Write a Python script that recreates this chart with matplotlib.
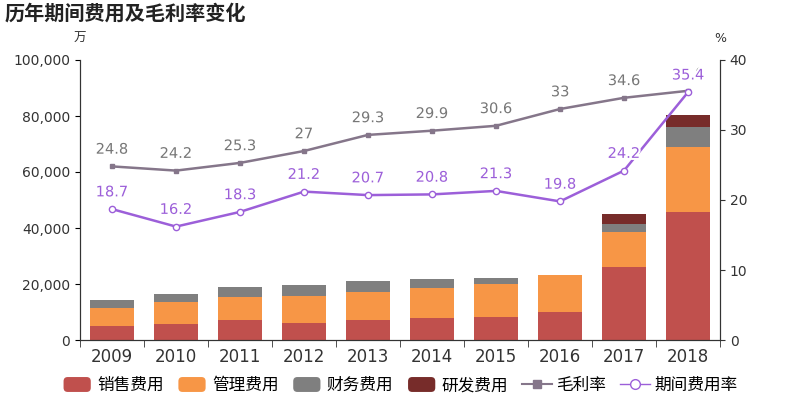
import matplotlib
matplotlib.use("Agg")
import matplotlib.pyplot as plt
import matplotlib.patches as mpatches
import matplotlib.patheffects as pe
from matplotlib.legend_handler import HandlerPatch
from matplotlib.lines import Line2D
import numpy as np

plt.rcParams['font.family'] = ['DejaVu Sans', 'Noto Sans CJK SC']

years = ['2009', '2010', '2011', '2012', '2013', '2014', '2015', '2016', '2017', '2018']
sales = [5000, 5700, 7100, 6200, 7100, 7900, 8200, 10000, 26100, 45700]
admin = [6400, 7900, 8200, 9600, 10000, 10800, 11700, 13100, 12600, 23200]
finance = [2900, 2900, 3700, 3900, 3800, 3200, 2400, 100, 2700, 7000]
rnd = [0, 0, 0, 0, 0, 0, 0, 0, 3600, 4400]
gross_margin = [24.8, 24.2, 25.3, 27, 29.3, 29.9, 30.6, 33, 34.6, 35.6]
expense_rate = [18.7, 16.2, 18.3, 21.2, 20.7, 20.8, 21.3, 19.8, 24.2, 35.4]

c_sales = '#c0504d'
c_admin = '#f79646'
c_fin = '#7f7f7f'
c_rnd = '#772c2a'
c_gm = '#85768a'
c_er = '#9c5fd9'


class RoundBox(HandlerPatch):
    # rounded colour swatch for the legend
    def create_artists(self, legend, orig_handle, xdescent, ydescent, width, height, fontsize, trans):
        p = mpatches.FancyBboxPatch((-xdescent + 1, -ydescent), width - 2, height,
                                    boxstyle='round,pad=0,rounding_size=3',
                                    facecolor=orig_handle.get_facecolor(), edgecolor='none',
                                    transform=trans)
        return [p]


fig = plt.figure(figsize=(8, 4), dpi=100)
ax = fig.add_axes([0.1, 0.15, 0.8, 0.70])
ax2 = ax.twinx()

x = np.arange(len(years))
w = 0.69
bottom = np.zeros(len(years))
for vals, col in [(sales, c_sales), (admin, c_admin), (finance, c_fin), (rnd, c_rnd)]:
    ax.bar(x, vals, w, bottom=bottom, color=col, zorder=2)
    bottom += np.array(vals)

ax.set_ylim(0, 100000)
ax.set_yticks(np.arange(0, 100001, 20000))
ax.set_yticklabels([f"{v:,}" for v in range(0, 100001, 20000)], fontsize=10, color='#333333')
ax.set_xlim(-0.5, len(years) - 0.5)
ax.set_xticks(x)
ax.set_xticklabels(years, fontsize=12, color='#333333')
ax.set_xticks(np.arange(-0.5, len(years), 1), minor=True)
ax.tick_params(axis='x', which='major', length=0, pad=6)
ax.tick_params(axis='x', which='minor', length=5, color='#333333')

ax2.set_ylim(0, 40)
ax2.set_yticks(range(0, 41, 10))
ax2.tick_params(axis='y', labelsize=10, labelcolor='#333333', color='#333333')

for a in (ax, ax2):
    a.spines['top'].set_visible(False)
    for s in ('left', 'right', 'bottom'):
        a.spines[s].set_color('#333333')

halo = [pe.withStroke(linewidth=3, foreground='white')]
ax2.plot(x, gross_margin, color=c_gm, lw=1.8, marker='s', ms=3.5, zorder=3)
ax2.plot(x, expense_rate, color=c_er, lw=1.8, marker='o', ms=4.5,
         markerfacecolor='white', markeredgecolor=c_er, zorder=3)
for xi, v in zip(x, gross_margin):
    ax2.annotate(f"{v:g}", (xi, v), xytext=(0, 7), textcoords='offset points',
                 ha='center', va='bottom', fontsize=10.5, color='#777777', path_effects=halo)
for xi, v in zip(x, expense_rate):
    ax2.annotate(f"{v:g}", (xi, v), xytext=(0, 7), textcoords='offset points',
                 ha='center', va='bottom', fontsize=10.5, color=c_er, path_effects=halo)

fig.text(0.006, 0.965, '历年期间费用及毛利率变化', fontsize=14.5, fontweight='bold',
         ha='left', va='center', color='#222222')
fig.text(0.1, 0.905, '万', fontsize=9, ha='center', va='center', color='#333333')
fig.text(0.9, 0.905, '%', fontsize=9, ha='center', va='center', color='#333333')

handles = [
    mpatches.Patch(color=c_sales, label='销售费用'),
    mpatches.Patch(color=c_admin, label='管理费用'),
    mpatches.Patch(color=c_fin, label='财务费用'),
    mpatches.Patch(color=c_rnd, label='研发费用'),
    Line2D([], [], color=c_gm, marker='s', ms=6, lw=1.5, label='毛利率'),
    Line2D([], [], color=c_er, marker='o', ms=7, lw=1, markerfacecolor='white', label='期间费用率'),
]
fig.legend(handles=handles, loc='center', bbox_to_anchor=(0.5, 0.037), ncol=6, frameon=False,
           fontsize=12, handlelength=1.8, handleheight=1.0, columnspacing=0.8, handletextpad=0.3,
           handler_map={mpatches.Patch: RoundBox()})

fig.savefig('out.png', dpi=100)
